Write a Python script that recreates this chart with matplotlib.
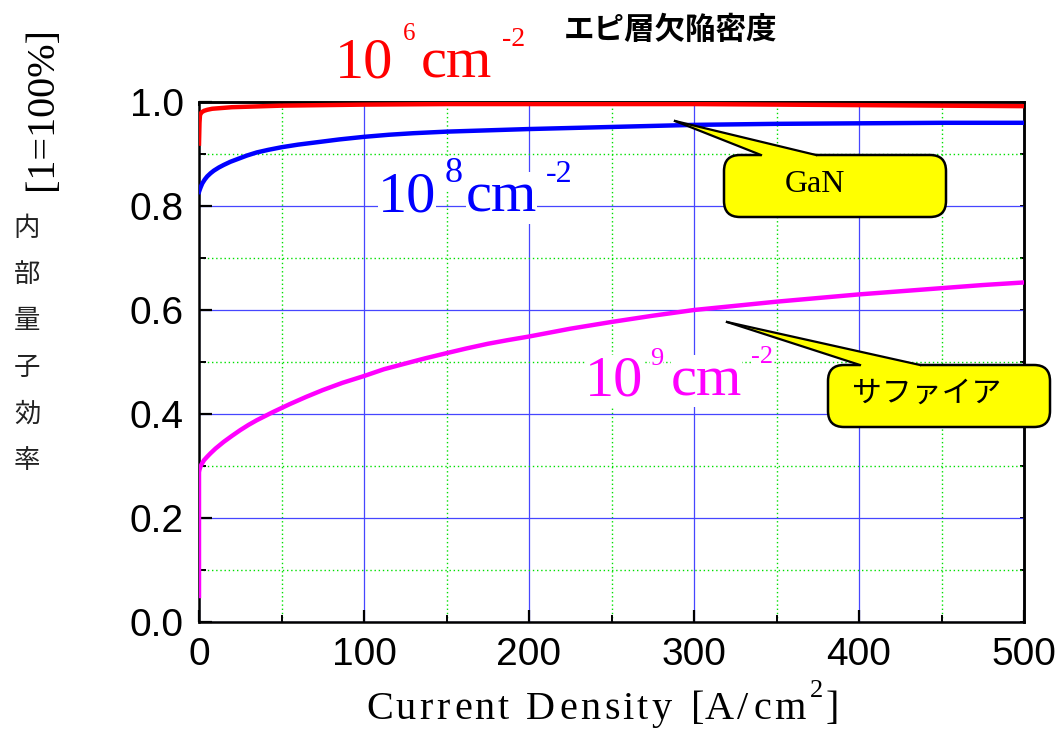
import matplotlib
matplotlib.use("Agg")
import matplotlib.pyplot as plt
from matplotlib.patches import FancyBboxPatch, Polygon
from matplotlib.lines import Line2D
from matplotlib.transforms import IdentityTransform
from matplotlib.ticker import MultipleLocator, FormatStrFormatter, NullFormatter
from matplotlib.font_manager import findfont, FontProperties
from matplotlib.ft2font import FT2Font

W, H = 1062, 729
SERIF = "Liberation Serif"
SANS = "Liberation Sans"
JP = ["Noto Sans CJK JP", "DejaVu Sans"]

# --- curves (current density A/cm2 -> IQE) ---
j_1e6 = [0, 0.3, 0.6, 1.5, 3, 5, 8, 12, 20, 30, 50, 75, 100, 150, 200, 300, 400, 500]
iqe_1e6 = [0.92, 0.96, 0.975, 0.980, 0.983, 0.985, 0.987, 0.988, 0.990, 0.991,
           0.993, 0.994, 0.995, 0.996, 0.996, 0.996, 0.994, 0.992]

j_1e8 = [0, 0.3, 1, 2, 3.5, 5, 7, 9, 12, 15, 19, 24, 29, 35, 42, 50, 60, 70, 85,
         100, 115, 130, 150, 170, 200, 250, 300, 350, 400, 450, 500]
iqe_1e8 = [0.827, 0.830, 0.836, 0.8435, 0.851, 0.857, 0.863, 0.868, 0.874, 0.879,
           0.885, 0.891, 0.897, 0.903, 0.908, 0.913, 0.918, 0.922, 0.928, 0.933,
           0.937, 0.940, 0.943, 0.945, 0.948, 0.952, 0.956, 0.958, 0.959, 0.960, 0.960]

j_1e9 = [0, 0, 0.3, 0.8, 1.5, 3, 5, 7, 10, 15, 20, 25, 30, 35, 40, 45, 55, 65, 75, 87,
         100, 112, 125, 137, 150, 162, 175, 187, 200, 225, 250, 275, 300, 325, 350,
         375, 400, 425, 450, 475, 500]
iqe_1e9 = [0.05, 0.288, 0.293, 0.298, 0.303, 0.311, 0.318, 0.3245, 0.3335, 0.3465,
           0.358, 0.369, 0.379, 0.388, 0.396, 0.404, 0.419, 0.433, 0.446, 0.460,
           0.473, 0.486, 0.497, 0.507, 0.517, 0.526, 0.535, 0.542, 0.549, 0.564,
           0.577, 0.589, 0.600, 0.608, 0.616, 0.623, 0.630, 0.636, 0.642, 0.648, 0.653]

title = "エピ層欠陥密度"
ylabel_unit = "[1=100%]"
ylabel_chars = "内部量子効率"
xlabel_main = "Current Density [A/cm"
xlabel_sup = "2"
xlabel_end = "]"


def fx(x):
    return x / W


def fy(y):
    return 1 - y / H


fig = plt.figure(figsize=(W / 100, H / 100), dpi=100)
ax = fig.add_axes([fx(199), fy(622), (1024 - 199) / W, (622 - 102) / H])

for j, iqe, col in [(j_1e6, iqe_1e6, "#ff0000"),
                    (j_1e8, iqe_1e8, "#0000ff"),
                    (j_1e9, iqe_1e9, "#ff00ff")]:
    ax.plot(j, iqe, color=col, lw=3.2, zorder=3, solid_joinstyle="round")

ax.set_xlim(0, 500)
ax.set_ylim(0, 1.0)
ax.xaxis.set_major_locator(MultipleLocator(100))
ax.xaxis.set_minor_locator(MultipleLocator(50))
ax.yaxis.set_major_locator(MultipleLocator(0.2))
ax.yaxis.set_minor_locator(MultipleLocator(0.1))
ax.yaxis.set_major_formatter(FormatStrFormatter("%.1f"))

ax.grid(which="major", color="#4646ff", lw=0.9)
ax.grid(which="minor", color="#00e000", lw=1.0, ls=(0, (1, 2)))
ax.set_axisbelow(True)

ax.tick_params(which="major", direction="in", length=9, width=1.6, labelsize=28, pad=11)
ax.tick_params(which="minor", direction="in", length=5, width=1.4)
for lab in ax.get_xticklabels() + ax.get_yticklabels():
    lab.set_family(SANS)
for sp in ax.spines.values():
    sp.set_linewidth(1.8)

# short ticks on the top and right frame, no labels
sx = ax.secondary_xaxis("top")
sx.xaxis.set_major_locator(MultipleLocator(100))
sx.xaxis.set_minor_locator(MultipleLocator(50))
sx.xaxis.set_major_formatter(NullFormatter())
sx.tick_params(which="both", direction="in", length=3, width=1.4)
sy = ax.secondary_yaxis("right")
sy.yaxis.set_major_locator(MultipleLocator(0.2))
sy.yaxis.set_minor_locator(MultipleLocator(0.1))
sy.yaxis.set_major_formatter(NullFormatter())
sy.tick_params(which="both", direction="in", length=3, width=1.4)
for s in (sx, sy):
    for sp in s.spines.values():
        sp.set_linewidth(1.8)


def piece(x, y, s, size, color, bg=True):
    kw = dict(fontsize=size, color=color, family=SERIF, ha="left", va="baseline")
    if bg:
        kw["bbox"] = dict(facecolor="white", edgecolor="none", pad=0)
    fig.text(fx(x), fy(y), s, **kw)


def spaced(x, y, s, size, track, family=SERIF, color="black"):
    """Draw s char by char with extra letter spacing; returns the pen position."""
    font = FT2Font(findfont(FontProperties(family=family)))
    font.set_size(size, 100)
    for ch in s:
        g = font.load_char(ord(ch))
        if ch != " ":
            fig.text(fx(x + g.horiBearingX / 64), fy(y), ch, fontsize=size,
                     family=family, color=color, ha="left", va="baseline")
        x += g.linearHoriAdvance / 65536 + track
    return x


# density labels: 10^n cm^-2
piece(335, 77, "10", 42, "#ff0000", bg=False)
piece(403, 40, "6", 18, "#ff0000", bg=False)
piece(421, 77, "cm", 42, "#ff0000", bg=False)
piece(502, 46, "-2", 20, "#ff0000", bg=False)

piece(378, 212, "10", 42, "#0000ff")
piece(445, 182, "8", 26, "#0000ff")
piece(466, 212, "cm", 42, "#0000ff")
piece(546, 182, "-2", 23, "#0000ff")

piece(585, 395, "10", 42, "#ff00ff")
piece(650, 365, "9", 19, "#ff00ff")
piece(671, 395, "cm", 42, "#ff00ff")
piece(751, 363, "-2", 19, "#ff00ff")

fig.text(fx(671), fy(30), title, fontsize=22, fontweight="bold", family=JP,
         ha="center", va="center")

# y axis label: unit rotated, words stacked vertically
fig.text(fx(43), fy(108), ylabel_unit, fontsize=29, family=SERIF, rotation=90,
         ha="center", va="center")
for i, ch in enumerate(ylabel_chars):
    fig.text(fx(27), fy(228 + 46.5 * i), ch, fontsize=19, family=JP,
             ha="center", va="center", color="#222222")

# x axis label with letter spacing
pen = spaced(365, 719, xlabel_main, 29, 3.4)
pen = spaced(pen + 1, 697, xlabel_sup, 19, 0)
spaced(pen + 3, 719, xlabel_end, 29, 0)


# yellow speech-bubble callouts (image pixel coordinates)
def callout(box, tip, base, text, text_xy, size, family):
    x0, y0, x1, y1 = box
    to = lambda x, y: (x, H - y)
    bx, by = to(x0, y1)
    fig.add_artist(FancyBboxPatch((bx, by), x1 - x0, y1 - y0,
                                  boxstyle="round,pad=0,rounding_size=16",
                                  facecolor="#ffff00", edgecolor="black", lw=1.8,
                                  transform=IdentityTransform(), zorder=5))
    (bl, br) = base
    poly = [to(*tip), to(bl, y0), to(bl, y0 + 3), to(br, y0 + 3), to(br, y0)]
    fig.add_artist(Polygon(poly, closed=True, facecolor="#ffff00", edgecolor="none",
                           transform=IdentityTransform(), zorder=6))
    for b in (bl, br):
        p0, p1 = to(*tip), to(b, y0)
        fig.add_artist(Line2D([p0[0], p1[0]], [p0[1], p1[1]], color="black", lw=1.6,
                              transform=IdentityTransform(), zorder=7))
    fig.text(fx(text_xy[0]), fy(text_xy[1]), text, fontsize=size, family=family,
             ha="center", va="center", zorder=8)


callout((724, 155, 946, 217), (675, 121), (761, 816), "GaN", (815, 185), 23, SERIF)
callout((828, 365, 1050, 427), (727, 322), (860, 920), "サファイア", (927, 393), 21.5, JP)

fig.savefig("out.png", dpi=100)
